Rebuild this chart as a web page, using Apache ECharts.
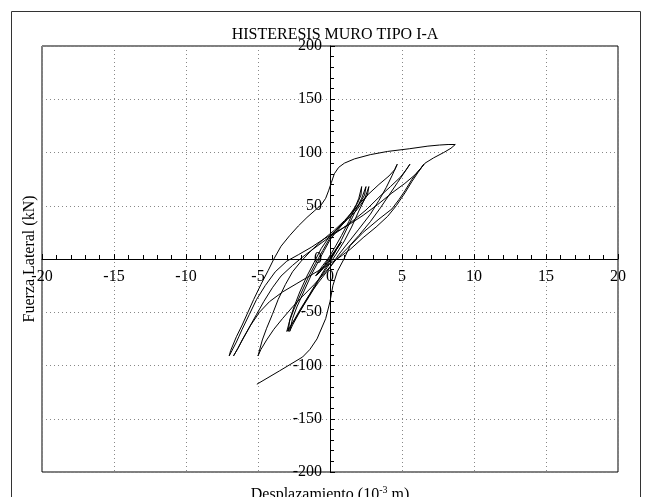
<!DOCTYPE html>
<html>
<head>
<meta charset="utf-8">
<script src="https://cdn.jsdelivr.net/npm/echarts@6/dist/echarts.min.js"></script>
<style>
html,body{margin:0;padding:0;background:#fff;}
#chart{width:646px;height:497px;}
</style>
</head>
<body>
<div id="chart"></div>
<script>
// ---- data (displacement in 10^-3 m, lateral force in kN) ----
var titleText = 'HISTERESIS MURO TIPO I-A';
var xName = 'Desplazamiento (10{sup|-3} m)';
var yName = 'Fuerza Lateral (kN)';
var xMin = -20, xMax = 20, xStep = 5;
var yMin = -200, yMax = 200, yStep = 50;

var smallCycles = [
  [0,0],[0.2,5],[0.45,10],[0.7,15],[0.55,12],[0.3,6],[0.05,0],[-0.3,-6],[-0.6,-11],[-0.9,-15],
  [-0.7,-12],[-0.4,-6],[-0.1,0],[0.2,5],[0.5,10],[0.8,16],[0.6,12],[0.25,5],[0,0],[-0.35,-6],
  [-0.7,-11],[-1.0,-16],[-0.8,-12],[-0.5,-6],[-0.15,0]
];

var mediumCycles = [
  [0.3,10],[0.8,22],[1.3,35],[1.7,47],[2.0,57],[2.2,68],
  [2.15,60],[1.9,52],[1.4,42],[0.9,33],[0.4,25],[0,18],[-0.4,8],[-0.8,-2],[-1.3,-15],[-1.8,-30],[-2.3,-45],[-2.6,-56],[-2.8,-68],
  [-2.6,-62],[-2.2,-52],[-1.7,-40],[-1.2,-28],[-0.7,-17],[-0.2,-6],[0.3,5],[0.8,18],[1.3,32],[1.8,46],[2.2,57],[2.5,68],
  [2.4,60],[2.1,53],[1.6,44],[1.0,35],[0.4,27],[0,20],[-0.5,8],[-1.0,-4],[-1.5,-17],[-2.0,-32],[-2.5,-47],[-2.8,-58],[-3.0,-68],
  [-2.8,-64],[-2.4,-56],[-1.9,-45],[-1.3,-32],[-0.8,-20],[-0.2,-8],[0.4,4],[1.0,17],[1.5,30],[2.0,45],[2.4,56],[2.7,68],
  [2.6,60],[2.3,54],[1.8,45],[1.2,37],[0.6,29],[0,22],[-0.6,10],[-1.1,-3],[-1.6,-16],[-2.1,-31],[-2.5,-45],[-2.8,-57],[-2.9,-68]
];

var largeCycles = [
  [-2.6,-60],[-2.1,-48],[-1.5,-35],[-0.8,-22],[0,-8],[0.6,4],[1.3,16],[2.0,28],[2.8,42],[3.4,55],[3.9,67],[4.3,78],[4.67,89],
  [4.5,84],[4.1,78],[3.4,70],[2.6,60],[1.8,48],[1.0,36],[0.3,27],[-0.5,18],[-1.3,8],[-2.0,-2],[-2.6,-12],[-3.1,-24],[-3.6,-38],[-4.0,-52],[-4.4,-65],[-4.7,-76],[-5.0,-91],
  [-4.8,-85],[-4.4,-76],[-3.9,-66],[-3.3,-56],[-2.6,-45],[-1.9,-35],[-1.1,-24],[-0.3,-12],[0.4,-1],[1.2,10],[2.0,22],[2.8,35],[3.5,48],[4.1,60],[4.7,72],[5.1,80],[5.55,89],
  [5.3,84],[4.9,77],[4.2,68],[3.4,58],[2.5,46],[1.6,36],[0.8,28],[0,21],[-0.9,12],[-1.8,3],[-2.6,-6],[-3.4,-16],[-4.0,-27],[-4.6,-40],[-5.1,-52],[-5.6,-64],[-6.1,-76],[-6.4,-84],[-6.7,-91],
  [-6.4,-84],[-6.0,-74],[-5.5,-62],[-4.9,-50],[-4.2,-40],[-3.3,-31],[-2.3,-23],[-1.3,-15],[-0.3,-7],[0.5,0],[1.4,9],[2.3,20],[3.2,30],[4.0,40],[4.6,50],[5.2,62],[5.7,73],[6.1,81],[6.52,89],
  [6.3,85],[5.9,79],[5.2,71],[4.3,62],[3.3,51],[2.3,41],[1.4,33],[0.5,26],[-0.4,19],[-1.3,11],[-2.2,4],[-3.0,-2],[-3.8,-12],[-4.5,-25],[-5.1,-38],[-5.6,-52],[-6.1,-66],[-6.5,-78],[-7.0,-91]
];

var finalLoading = [
  [-6.9,-86],[-6.5,-73],[-6.1,-62],[-5.7,-50],[-5.3,-38],[-4.8,-24],[-4.3,-11],[-3.9,0],[-3.4,12],[-2.8,22],[-2.2,31],
  [-1.6,39],[-1.1,45],[-0.6,51],[-0.3,57],[-0.1,64],[0.1,72],[0.3,80],[0.6,86],[1.0,90],[1.7,94],[2.8,98],[4.0,101],
  [5.5,103.5],[6.8,106],[7.6,107],[8.2,107.5],[8.7,107.5]
];

var finalUnloading = [
  [8.4,104],[7.9,100],[7.2,95],[6.6,90],[6.1,82],[5.7,75],[5.2,64],[4.8,56],[4.3,47],[3.4,37.5],[2.3,25],[1.4,12.5],[0.97,0],
  [0.5,-12],[0.2,-25],[0,-40],[-0.3,-56],[-0.9,-75],[-1.4,-85],[-1.9,-92],[-3.5,-105],[-5.08,-117.6]
];

var curve = [].concat(smallCycles, mediumCycles, largeCycles, finalLoading, finalUnloading);

// ---- chart ----
var FONT = '"Liberation Serif", "Times New Roman", serif';
var GRID = {left: 42, right: 28, top: 46, bottom: 25};
var W = 646, H = 497;
var plotW = W - GRID.left - GRID.right, plotH = H - GRID.top - GRID.bottom;
var chart = echarts.init(document.getElementById('chart'), null, {renderer: 'canvas'});
chart.setOption({
  animation: false,
  backgroundColor: '#fff',
  textStyle: {fontFamily: FONT, color: '#000'},
  title: {
    text: titleText, left: 330, top: 22, textAlign: 'center',
    textStyle: {fontFamily: FONT, fontSize: 16, fontWeight: 'normal', color: '#000'}
  },
  graphic: [{
    type: 'rect', z: 100, silent: true,
    shape: {x: 11.5, y: 11.5, width: 629, height: 500},
    style: {fill: 'none', stroke: '#333', lineWidth: 1}
  }],
  grid: {left: GRID.left, right: GRID.right, top: GRID.top, bottom: GRID.bottom, containLabel: false, outerBoundsMode: 'none',
    show: true, borderColor: '#000', borderWidth: 1, backgroundColor: 'transparent'},
  xAxis: {
    type: 'value', min: xMin, max: xMax, interval: xStep, position: 'bottom',
    offset: -plotH / 2,
    name: xName, nameLocation: 'middle', nameGap: 226,
    nameTextStyle: {fontFamily: FONT, fontSize: 16, color: '#000',
      rich: {sup: {fontFamily: FONT, fontSize: 10, color: '#000', padding: [0, 0, 9, 0]}}},
    axisLine: {onZero: false, lineStyle: {color: '#000', width: 1}},
    axisTick: {show: true, inside: true, length: 5, lineStyle: {color: '#000'}},
    minorTick: {show: true, splitNumber: 5, length: 4, lineStyle: {color: '#000'}},
    axisLabel: {fontFamily: FONT, fontSize: 16, color: '#000', margin: 10, showMinLabel: true, showMaxLabel: true, hideOverlap: false},
    splitLine: {show: true, lineStyle: {color: '#888', type: [1, 3], width: 1}}
  },
  yAxis: {
    type: 'value', min: yMin, max: yMax, interval: yStep, position: 'left',
    offset: -plotW / 2,
    name: yName, nameLocation: 'middle', nameGap: 292, nameRotate: 90,
    nameTextStyle: {fontFamily: FONT, fontSize: 16, color: '#000'},
    axisLine: {onZero: false, lineStyle: {color: '#000', width: 1}},
    axisTick: {show: true, inside: true, length: 5, lineStyle: {color: '#000'}},
    minorTick: {show: true, splitNumber: 5, length: 4, lineStyle: {color: '#000'}},
    axisLabel: {fontFamily: FONT, fontSize: 16, color: '#000', margin: 8, showMinLabel: true, showMaxLabel: true, hideOverlap: false},
    splitLine: {show: true, lineStyle: {color: '#888', type: [1, 3], width: 1}}
  },
  series: [{
    type: 'line', data: curve, showSymbol: false, symbol: 'none', smooth: false,
    lineStyle: {color: '#000', width: 1}, z: 3
  }]
});
</script>
</body>
</html>
